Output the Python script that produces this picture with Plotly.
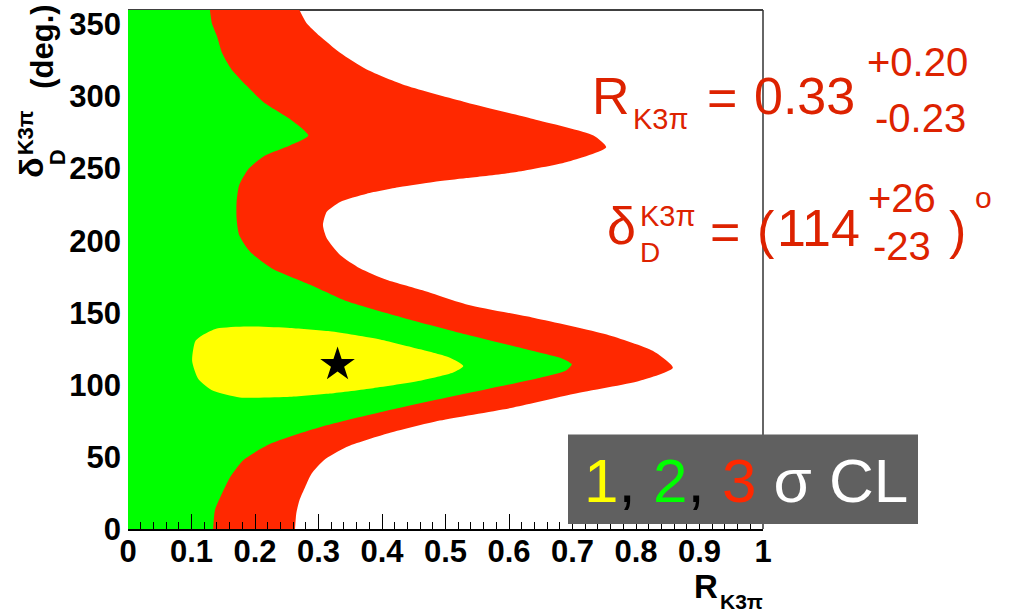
import plotly.graph_objects as go

# ---------------- data: confidence-region boundaries ----------------
# 3 sigma region: outer edge R(delta), filled from R = 0
delta_3sigma = [0, 10.8, 20, 29.2, 38.4, 47.6, 56.8, 66, 75.2, 84.3, 93.6, 102.8,
                111.9, 123.4, 134.9, 146.4, 155.6, 164.8, 172.9, 180.9, 190.1,
                201.6, 210.8, 220, 226.9, 232.6, 237.2, 240.7, 243.4, 247.6,
                254.5, 264.8, 272.9, 284.4, 295.9, 307.4, 318.8, 330.3, 341.9,
                351, 360]
r_3sigma = [0.263, 0.265, 0.270, 0.279, 0.289, 0.308, 0.344, 0.407, 0.491, 0.607,
            0.701, 0.806, 0.858, 0.827, 0.754, 0.640, 0.535, 0.470, 0.407, 0.365,
            0.334, 0.313, 0.307, 0.313, 0.334, 0.376, 0.428, 0.481, 0.533, 0.612,
            0.691, 0.753, 0.733, 0.638, 0.533, 0.439, 0.376, 0.334, 0.302, 0.281,
            0.270]

# 2 sigma region: outer edge R(delta), filled from R = 0
delta_2sigma = [0, 13.1, 24.6, 36.1, 47.6, 59.1, 70.6, 82, 93.6, 105, 110, 114.3,
                118, 123.4, 134.9, 146.4, 157.9, 169.4, 180.9, 192.4, 203.9, 215.4,
                226.9, 238.4, 249.9, 259, 266, 272.9, 284.4, 295.9, 307.4, 318.8,
                330.3, 341.9, 351, 360]
r_2sigma = [0.134, 0.137, 0.148, 0.161, 0.181, 0.224, 0.302, 0.407, 0.528, 0.649,
            0.690, 0.699, 0.685, 0.638, 0.533, 0.434, 0.345, 0.287, 0.226, 0.192,
            0.175, 0.171, 0.171, 0.175, 0.190, 0.216, 0.255, 0.284, 0.255, 0.214,
            0.187, 0.163, 0.148, 0.140, 0.132, 0.129]

# 1 sigma region: closed island
r_1sigma = [0.119, 0.140, 0.187, 0.255, 0.318, 0.397, 0.460, 0.507, 0.528, 0.512,
            0.460, 0.386, 0.318, 0.255, 0.176, 0.134, 0.111, 0.101, 0.106, 0.119]
delta_1sigma = [134.9, 139.1, 140.5, 139.5, 137.2, 131.5, 124.6, 118.8, 113.1, 108.5,
                102.8, 97.7, 94.0, 91.7, 91.3, 95.9, 103.9, 116.6, 130.3, 134.9]

# best fit point
best_r = [0.33]
best_delta = [114]

x_ticks = [0, 0.1, 0.2, 0.3, 0.4, 0.5, 0.6, 0.7, 0.8, 0.9, 1]
x_tick_text = ["0", "0.1", "0.2", "0.3", "0.4", "0.5", "0.6", "0.7", "0.8", "0.9", "1"]
y_ticks = [0, 50, 100, 150, 200, 250, 300, 350]
y_tick_text = ["0", "50", "100", "150", "200", "250", "300", "350"]

# ---------------- style ----------------
RED = "#FF2800"
GREEN = "#00FF00"
YELLOW = "#FFFF00"
TEXT_RED = "#DD2200"
BOX_GREY = "#606060"
FONT = "Liberation Sans, Arial, Helvetica, sans-serif"

W, H = 1010, 613
ML, MR, MT, MB = 128, 247, 7, 84
PW, PH = W - ML - MR, H - MT - MB


def px(x):
    """pixel column -> paper x"""
    return (x - ML) / PW


def py(y):
    """pixel row -> paper y"""
    return (H - MB - y) / PH


fig = go.Figure()

edge = dict(width=0, shape="spline", smoothing=0.6)
fig.add_trace(go.Scatter(x=r_3sigma, y=delta_3sigma, mode="lines",
                         line=dict(color=RED, **edge), fill="tozerox",
                         fillcolor=RED, hoverinfo="skip", showlegend=False))
fig.add_trace(go.Scatter(x=r_2sigma, y=delta_2sigma, mode="lines",
                         line=dict(color=GREEN, **edge), fill="tozerox",
                         fillcolor=GREEN, hoverinfo="skip", showlegend=False))
fig.add_trace(go.Scatter(x=r_1sigma, y=delta_1sigma, mode="lines",
                         line=dict(color=YELLOW, **edge), fill="toself",
                         fillcolor=YELLOW, hoverinfo="skip", showlegend=False))
fig.add_trace(go.Scatter(x=best_r, y=best_delta, mode="markers",
                         marker=dict(symbol="star", size=26, color="black",
                                     line=dict(width=0)),
                         hoverinfo="skip", showlegend=False))

annotations = []


def label(text, x, y, size, color, bold=False, angle=0):
    annotations.append(dict(
        text=text, x=px(x), y=py(y), xref="paper", yref="paper",
        xanchor="center", yanchor="middle", showarrow=False, textangle=angle,
        font=dict(family=FONT, size=size, color=color,
                  weight="bold" if bold else "normal")))


# y axis title (rotated)
label("(deg.)", 43, 44, 31, "black", bold=True, angle=-90)
label("δ", 31, 165, 34, "black", bold=True, angle=-90)
label("K3π", 25, 130, 22, "black", bold=True, angle=-90)
label("D", 57, 155, 22, "black", bold=True, angle=-90)

# x axis title
label("R", 706, 587, 33, "black", bold=True)
label("K3π", 741, 602, 21, "black", bold=True)

# result for R
label("R", 611, 93, 52, TEXT_RED)
label("K3π", 660, 117, 29, TEXT_RED)
label("=", 722, 96, 52, TEXT_RED)
label("0.33", 804, 93, 52, TEXT_RED)
label("+0.20", 917, 59, 40, TEXT_RED)
label("-0.23", 920, 116, 40, TEXT_RED)

# result for delta
label("δ", 621, 224, 52, TEXT_RED)
label("K3π", 667, 214, 29, TEXT_RED)
label("D", 650, 251, 28, TEXT_RED)
label("=", 725, 230, 52, TEXT_RED)
label("(", 766, 228, 52, TEXT_RED)
label("114", 818, 226, 52, TEXT_RED)
label("+26", 902, 196, 40, TEXT_RED)
label("-23", 902, 244, 40, TEXT_RED)
label(")", 958, 228, 52, TEXT_RED)
label("o", 983, 196, 30, TEXT_RED)

# confidence-level key
key_text = ('<span style="color:#FFFF00">1</span>'
            '<span style="color:black">, </span>'
            '<span style="color:#00FF00">2</span>'
            '<span style="color:black">, </span>'
            '<span style="color:#FF2800">3</span>'
            '<span style="color:white"> σ CL</span>')
label(key_text, 746, 480, 62, "white")

shapes = [
    # frame top and right edges, under the filled regions
    dict(type="line", xref="paper", yref="paper", x0=0, x1=1, y0=1, y1=1,
         line=dict(color="black", width=1.5), layer="below"),
    dict(type="line", xref="paper", yref="paper", x0=1, x1=1, y0=0, y1=1,
         line=dict(color="#333333", width=1.5), layer="below"),
    # key background
    dict(type="rect", xref="paper", yref="paper",
         x0=px(568), x1=px(918), y0=py(524), y1=py(434),
         fillcolor=BOX_GREY, line=dict(width=0), layer="above"),
]

fig.update_layout(
    width=W, height=H,
    margin=dict(l=ML, r=MR, t=MT, b=MB, pad=0),
    paper_bgcolor="white", plot_bgcolor="white",
    annotations=annotations, shapes=shapes,
    showlegend=False,
    xaxis=dict(range=[0, 1], tickvals=x_ticks, ticktext=x_tick_text,
               ticks="inside", ticklen=15, tickwidth=1, tickcolor="black",
               minor=dict(dtick=0.02, ticks="inside", ticklen=7,
                          tickwidth=1, tickcolor="black"),
               showline=True, linecolor="black", linewidth=1.5,
               showgrid=False, zeroline=False, layer="above traces",
               ticklabelstandoff=-6,
               tickfont=dict(family=FONT, size=31, color="black", weight="bold")),
    yaxis=dict(range=[0, 360], tickvals=y_ticks, ticktext=y_tick_text,
               ticks="", showline=False, showgrid=False, zeroline=False,
               ticklabelstandoff=6,
               tickfont=dict(family=FONT, size=31, color="black", weight="bold")),
)

fig.write_html("out.html")
